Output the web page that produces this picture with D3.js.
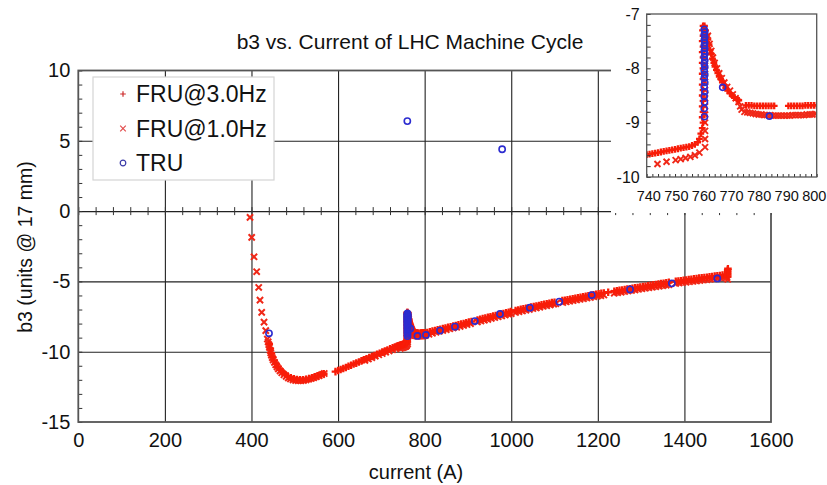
<!DOCTYPE html>
<meta charset="utf-8">
<style>
  body { margin: 0; background: #fff; }
  text { font-family: "Liberation Sans", Arial, sans-serif; fill: #111; }
</style>

<script src="https://d3js.org/d3.v7.min.js"></script>

<div id="chart"></div>

<script>

// values: [current (A), b3 (units @ 17 mm)]
var fru3 = [
  [441,-9.45],[443.5,-9.78],[446,-10.1],[449,-10.38],[452.5,-10.63],[456.5,-10.86],[461,-11.07],[466,-11.27],
  [471.5,-11.45],[477.5,-11.6],[484,-11.74],[491,-11.85],[498,-11.93],[505,-11.98],[512,-12.0],[519,-11.99],
  [526,-11.96],[533,-11.91],[540,-11.85],[547,-11.79],[554,-11.72],[561,-11.64],[567,-11.57],
  [594,-11.42],[600,-11.34],[606,-11.27],[612,-11.19],[618,-11.12],[624,-11.04],[630,-10.96],[636,-10.88],
  [642,-10.81],[648,-10.73],[654,-10.65],[660,-10.57],[666,-10.5],[672,-10.42],[678,-10.34],[684,-10.27],
  [690,-10.19],[696,-10.11],[702,-10.03],[708,-9.96],[714,-9.88],[720,-9.8],[726,-9.73],[731,-9.67],[735,-9.63],
  [737,-9.62],[738,-9.61],[739,-9.6],[740,-9.59],[741,-9.58],[742,-9.57],[743,-9.56],[744,-9.55],[745,-9.54],
  [746,-9.53],[747,-9.52],[748,-9.51],[749,-9.5],[750,-9.49],[751,-9.48],[752,-9.47],[753,-9.46],[754,-9.45],
  [755,-9.44],[756,-9.42],[757,-9.4],[758,-9.36],[758.6,-9.3],[759.1,-9.2],
  [759.6,-9.1],[759.9,-9.0],[759.6,-8.9],[759.9,-8.8],[759.6,-8.7],[759.9,-8.6],[759.6,-8.5],[759.9,-8.4],
  [759.6,-8.3],[759.9,-8.2],[759.6,-8.1],[759.9,-8.0],[759.6,-7.9],[759.9,-7.8],[759.6,-7.7],[759.9,-7.6],
  [759.6,-7.5],[759.9,-7.4],[759.7,-7.3],[759.9,-7.22],
  [760.4,-7.22],[760.8,-7.3],[761.2,-7.38],[761.6,-7.47],[762,-7.56],[762.4,-7.66],[762.8,-7.74],[763.2,-7.82],
  [763.7,-7.9],[764.1,-7.97],[764.6,-8.03],[765.1,-8.09],[765.6,-8.15],[766.1,-8.2],[766.7,-8.26],[767.3,-8.31],
  [767.9,-8.36],[768.6,-8.41],[769.4,-8.46],[770.2,-8.5],[771,-8.54],[771.8,-8.57],[772.5,-8.59],
  [775,-8.68],[776,-8.68],[777,-8.68],[778,-8.69],[779,-8.69],[780,-8.69],[781,-8.69],[782,-8.69],[783,-8.69],
  [784,-8.69],[785,-8.69],
  [790,-8.69],[791,-8.69],[792,-8.69],[793,-8.69],[794,-8.69],[795,-8.69],[796,-8.68],[797,-8.68],[798,-8.68],
  [799,-8.68],[800,-8.68],
  [806,-8.63],[812,-8.59],[818,-8.54],[824,-8.5],[830,-8.45],[836,-8.41],[842,-8.36],[848,-8.32],[854,-8.27],
  [860,-8.23],[866,-8.18],[872,-8.14],[878,-8.09],[884,-8.04],[890,-8.0],[896,-7.95],[902,-7.9],[908,-7.86],
  [922,-7.75],[928,-7.7],[934,-7.65],[940,-7.61],[946,-7.56],[952,-7.51],[958,-7.46],[964,-7.42],[970,-7.37],
  [976,-7.32],[982,-7.28],[988,-7.23],[994,-7.19],[999,-7.15],
  [1010,-7.07],[1016,-7.03],[1022,-6.99],[1028,-6.95],[1034,-6.91],[1040,-6.87],[1046,-6.83],[1052,-6.79],
  [1058,-6.75],[1064,-6.71],[1070,-6.67],[1076,-6.63],[1082,-6.59],[1088,-6.55],[1094,-6.51],[1100,-6.48],
  [1118,-6.37],[1124,-6.34],[1130,-6.3],[1136,-6.27],[1142,-6.23],[1148,-6.2],[1154,-6.16],[1160,-6.13],
  [1166,-6.09],[1172,-6.06],[1178,-6.02],[1184,-5.99],[1190,-5.95],[1196,-5.92],[1202,-5.88],[1208,-5.85],
  [1214,-5.82],[1224,-5.77],
  [1238,-5.7],[1244,-5.67],[1250,-5.64],[1256,-5.61],[1262,-5.58],[1268,-5.55],[1274,-5.52],[1280,-5.49],
  [1286,-5.46],[1292,-5.43],[1298,-5.4],[1304,-5.37],[1310,-5.34],[1316,-5.31],[1322,-5.28],[1328,-5.25],
  [1334,-5.22],[1340,-5.19],[1346,-5.16],[1352,-5.13],[1358,-5.1],[1364,-5.07],
  [1380,-5.0],[1386,-4.97],[1392,-4.95],[1398,-4.92],[1404,-4.9],[1410,-4.87],[1416,-4.85],[1422,-4.82],
  [1428,-4.8],[1434,-4.77],[1440,-4.75],[1446,-4.72],[1452,-4.7],[1458,-4.67],[1464,-4.65],[1470,-4.62],
  [1476,-4.6],[1482,-4.58],[1488,-4.55],[1494,-4.53],[1499,-4.48],
  [1500,-4.65],[1500,-4.5],[1500,-4.35],[1500,-4.2],[1500.5,-4.1]
];

var fru1 = [
  [396.6,-0.45],[400.5,-1.87],[405.9,-3.25],[412,-4.31],[416.7,-5.43],[419.7,-6.33],[423.6,-7.2],[429,-7.9],
  [433,-8.5],[436.7,-9.1],
  [438.5,-9.3],[440,-9.5],[441.5,-9.7],[443,-9.9],[444.5,-10.08],[446,-10.25],[448,-10.42],[450,-10.59],
  [453,-10.76],[456,-10.93],[459,-11.08],[462,-11.22],[466,-11.36],[470,-11.5],[475,-11.64],[480,-11.76],
  [485,-11.86],[490,-11.94],[496,-12.01],[502,-12.05],[508,-12.07],[514,-12.07],[520,-12.05],[526,-12.01],
  [532,-11.96],[538,-11.91],[544,-11.85],[550,-11.78],[556,-11.71],[562,-11.63],[568,-11.55],
  [662,-10.62],[670,-10.52],[678,-10.42],[686,-10.32],[694,-10.22],[702,-10.13],[710,-10.03],[718,-9.94],
  [726,-9.85],[734,-9.78],
  [743.8,-9.76],[747,-9.72],[750.2,-9.69],[752,-9.67],[753.7,-9.65],[755.4,-9.63],[757,-9.6],[758.6,-9.55],
  [760.6,-9.45],[760.6,-9.3],[760.6,-9.15],[760.6,-9.0],[760.6,-8.85],[760.6,-8.7],[760.6,-8.55],[760.6,-8.4],
  [760.6,-8.25],[760.6,-8.1],[760.6,-7.95],[760.6,-7.8],[760.6,-7.65],[761,-7.5],
  [761.6,-7.4],[762.2,-7.55],[762.8,-7.68],[763.4,-7.8],[764,-7.9],[764.8,-8.0],[765.6,-8.09],[766.5,-8.18],
  [767.4,-8.26],[768.4,-8.34],[769.4,-8.41],[770.4,-8.48],[771.4,-8.55],[772.4,-8.62],[773,-8.7],[773.5,-8.76],
  [774.5,-8.8],[775.5,-8.81],[776.5,-8.82],[777.5,-8.83],[778.5,-8.84],[779.5,-8.85],[780.5,-8.85],[781.5,-8.86],
  [782.5,-8.86],[783.5,-8.86],[784.5,-8.87],[785.5,-8.87],[786.5,-8.87],[787.5,-8.87],[788.5,-8.87],[789.5,-8.87],
  [790.5,-8.87],[791.5,-8.86],[792.5,-8.86],[793.5,-8.86],[794.5,-8.86],[795.5,-8.86],[796.5,-8.85],[797.5,-8.85],
  [798.5,-8.85],[799.5,-8.84],
  [802,-8.83],[810,-8.76],[818,-8.69],[826,-8.62],[834,-8.55],[842,-8.49],[850,-8.43],[858,-8.37],[866,-8.31],
  [874,-8.26],[882,-8.2],[890,-8.13],[898,-8.07],[906,-8.01],
  [922,-7.88],[930,-7.82],[938,-7.76],[946,-7.7],[954,-7.63],[962,-7.57],[970,-7.51],[978,-7.45],[986,-7.39],
  [994,-7.33],[1000,-7.29],
  [1010,-7.21],[1018,-7.15],[1026,-7.1],[1034,-7.04],[1042,-6.99],[1050,-6.93],[1058,-6.88],[1066,-6.83],
  [1074,-6.77],[1082,-6.72],[1090,-6.67],[1098,-6.62],[1103,-6.59],
  [1119,-6.5],[1127,-6.45],[1135,-6.41],[1143,-6.36],[1151,-6.32],[1159,-6.27],[1167,-6.23],[1175,-6.18],
  [1183,-6.14],[1191,-6.09],[1199,-6.05],[1207,-6.01],[1214,-5.97],
  [1238,-5.84],[1246,-5.8],[1254,-5.76],[1262,-5.72],[1270,-5.68],[1278,-5.64],[1286,-5.6],[1294,-5.56],
  [1302,-5.52],[1310,-5.48],[1318,-5.45],[1326,-5.41],[1334,-5.37],[1342,-5.34],[1350,-5.3],[1358,-5.27],
  [1364,-5.24],
  [1380,-5.14],[1388,-5.11],[1396,-5.08],[1404,-5.05],[1412,-5.02],[1420,-4.99],[1428,-4.96],[1436,-4.93],
  [1444,-4.9],[1452,-4.87],[1460,-4.84],[1468,-4.81],[1476,-4.78],[1484,-4.75],[1492,-4.72],[1498,-4.7],
  [1500,-4.85]
];

var tru = [
  [760,6.4],[979,4.4],[440.5,-8.69],
  [760.3,-7.28],[760.5,-7.33],[760.3,-7.38],[760.5,-7.43],[760.3,-7.48],[760.5,-7.53],[760.3,-7.58],[760.5,-7.63],
  [760.3,-7.68],[760.5,-7.73],[760.3,-7.79],[760.5,-7.85],[760.3,-7.91],[760.5,-7.97],[760.3,-8.04],[760.5,-8.11],
  [760.3,-8.18],[760.5,-8.26],[760.3,-8.34],[760.5,-8.43],[760.3,-8.52],[760.4,-8.62],[760.3,-8.74],[760.4,-8.89],
  [766.8,-8.35],[783.3,-8.88],[803,-8.81],[835.5,-8.5],[870,-8.22],[916,-7.82],[974,-7.32],[1043,-6.87],
  [1111,-6.44],[1186,-5.97],[1274.5,-5.57],[1371,-5.14],[1476,-4.79]
];

var seriesNames = ["FRU@3.0Hz", "FRU@1.0Hz", "TRU"];
var xTicks = [0, 200, 400, 600, 800, 1000, 1200, 1400, 1600];
var yTicks = [10, 5, 0, -5, -10, -15];
var insetXTicks = [740, 750, 760, 770, 780, 790, 800];
var insetYTicks = [-7, -8, -9, -10];

var red3 = "#f81c08", red1 = "#f02818", blue = "#2c2cd0";
var font = '"Liberation Sans", Arial, sans-serif';

// marker shapes
function plus(s) { return "M" + (-s) + ",0H" + s + "M0," + (-s) + "V" + s; }
function times(s) { return "M" + (-s) + "," + (-s) + "L" + s + "," + s + "M" + (-s) + "," + s + "L" + s + "," + (-s); }

var svg = d3.select("#chart").append("svg")
    .attr("width", 827)
    .attr("height", 485);

// ---------- main plot ----------
var margin = {top: 70.5, left: 78.3},
    width = 692.7,
    height = 351.5;

var g = svg.append("g")
    .attr("transform", "translate(" + margin.left + "," + margin.top + ")");

var x = d3.scaleLinear().domain([0, 1600]).range([0, width]);
var y = d3.scaleLinear().domain([-15, 10]).range([height, 0]);

function styleLines(sel, color, w) {
  sel.select(".domain").remove();
  sel.selectAll("line").attr("stroke", color).attr("stroke-width", w);
}

// grid lines
g.append("g")
    .attr("transform", "translate(0," + height + ")")
    .call(d3.axisBottom(x).tickValues(xTicks.slice(1, -1)).tickSize(-height).tickFormat(""))
    .call(styleLines, "#222", 1.1);
g.append("g")
    .call(d3.axisLeft(y).tickValues(yTicks.slice(1, -1)).tickSize(-width).tickFormat(""))
    .call(styleLines, "#222", 1.1);

// minor ticks: left edge and along b3 = 0
g.append("g")
    .call(d3.axisRight(y).tickValues(d3.range(-15, 11)).tickSize(4).tickFormat(""))
    .call(styleLines, "#333", 1);
g.append("g")
    .attr("transform", "translate(0," + (y(0) - 4) + ")")
    .call(d3.axisBottom(x).tickValues(d3.range(0, 1601, 40)).tickSize(8).tickFormat(""))
    .call(styleLines, "#333", 1);

g.append("rect")
    .attr("width", width).attr("height", height)
    .attr("fill", "none").attr("stroke", "#555").attr("stroke-width", 1.8);

// tick labels
g.append("g")
    .attr("transform", "translate(0," + height + ")")
    .call(d3.axisBottom(x).tickValues(xTicks).tickSize(0).tickPadding(11).tickFormat(function(d) { return String(d); }))
    .call(function(s) { s.select(".domain").remove(); })
    .attr("font-size", 20).attr("font-family", font);
g.append("g")
    .call(d3.axisLeft(y).tickValues(yTicks).tickSize(0).tickPadding(8).tickFormat(function(d) { return String(d); }))
    .call(function(s) { s.select(".domain").remove(); })
    .attr("font-size", 20).attr("font-family", font);

// data
function drawSeries(parent, data, sx, sy, shape, color, size, sw) {
  parent.append("g").selectAll("path")
    .data(data)
    .join("path")
      .attr("transform", function(d) { return "translate(" + sx(d[0]) + "," + sy(d[1]) + ")"; })
      .attr("d", shape(size))
      .attr("fill", "none")
      .attr("stroke", color)
      .attr("stroke-width", sw);
}
function drawCircles(parent, data, sx, sy, r) {
  parent.append("g").selectAll("circle")
    .data(data)
    .join("circle")
      .attr("cx", function(d) { return sx(d[0]); })
      .attr("cy", function(d) { return sy(d[1]); })
      .attr("r", r)
      .attr("fill", "none")
      .attr("stroke", blue)
      .attr("stroke-width", 1.6);
}

drawSeries(g, fru1, x, y, times, red1, 3.1, 2);
drawSeries(g, fru3, x, y, plus, red3, 3.8, 2.3);
drawCircles(g, tru, x, y, 3.1);

// titles
svg.append("text")
    .attr("x", 410).attr("y", 49)
    .attr("text-anchor", "middle")
    .style("font-size", "21px")
    .text("b3 vs. Current of LHC Machine Cycle");

svg.append("text")
    .attr("transform", "translate(32,247) rotate(-90)")
    .attr("text-anchor", "middle")
    .style("font-size", "19.5px")
    .text("b3 (units @ 17 mm)");

svg.append("text")
    .attr("x", 416).attr("y", 479)
    .attr("text-anchor", "middle")
    .style("font-size", "20px")
    .text("current (A)");

// legend
var legend = svg.append("g").attr("transform", "translate(93,77)");
legend.append("rect")
    .attr("width", 181).attr("height", 103)
    .attr("fill", "#fff").attr("stroke", "#d4d4d4").attr("stroke-width", 1.2);
var legendShapes = [plus, times, null];
var legendColors = ["#cc2a2a", "#e24c4c", "#3a3aa8"];
seriesNames.forEach(function(name, i) {
  var row = legend.append("g").attr("transform", "translate(30," + (17 + i * 34.5) + ")");
  if (legendShapes[i]) {
    row.append("path").attr("d", legendShapes[i](2.8))
      .attr("fill", "none").attr("stroke", legendColors[i]).attr("stroke-width", 1.2);
  } else {
    row.append("circle").attr("r", 2.8)
      .attr("fill", "none").attr("stroke", legendColors[i]).attr("stroke-width", 1.2);
  }
  row.append("text")
      .attr("x", 13).attr("y", 8)
      .style("font-size", "23px")
      .text(name);
});

// ---------- inset zoom ----------
svg.append("rect")
    .attr("x", 611).attr("y", 0)
    .attr("width", 216).attr("height", 213)
    .attr("fill", "#fff");

var iw = 170, ih = 163;
var ig = svg.append("g").attr("transform", "translate(646.7,14)");
var xi = d3.scaleLinear().domain([740, 800]).range([0, iw]);
var yi = d3.scaleLinear().domain([-10, -7]).range([ih, 0]);

svg.append("clipPath").attr("id", "insetClip")
  .append("rect").attr("width", iw).attr("height", ih);

var inside = function(d) { return d[0] >= 736 && d[0] <= 802 && d[1] >= -10.2 && d[1] <= -6.8; };
var plot = ig.append("g").attr("clip-path", "url(#insetClip)");
drawSeries(plot, fru1.filter(inside), xi, yi, times, red1, 3, 1.9);
drawSeries(plot, fru3.filter(inside), xi, yi, plus, red3, 3.4, 2.3);
drawCircles(plot, tru.filter(inside), xi, yi, 3);

ig.append("g")
    .call(d3.axisRight(yi).tickValues(d3.range(0, 16).map(function(i) { return -10 + i * 0.2; })).tickSize(4).tickFormat(""))
    .call(styleLines, "#333", 1);
ig.append("g")
    .attr("transform", "translate(0," + ih + ")")
    .call(d3.axisTop(xi).tickValues(d3.range(740, 801, 2)).tickSize(3).tickFormat(""))
    .call(styleLines, "#333", 1);

ig.append("rect")
    .attr("width", iw).attr("height", ih)
    .attr("fill", "none").attr("stroke", "#555").attr("stroke-width", 1.3);

ig.append("g")
    .attr("transform", "translate(0," + ih + ")")
    .call(d3.axisBottom(xi).tickValues(insetXTicks).tickSize(0).tickPadding(14).tickFormat(function(d) { return String(d); }))
    .call(function(s) {
      s.select(".domain").remove();
      // labels sit a little tighter than the ticks so "800" stays on the page
      s.selectAll("text").attr("dx", function(d, i) { return 1.6 - 0.75 * i; });
    })
    .attr("font-size", 14.5).attr("font-family", font);
ig.append("g")
    .call(d3.axisLeft(yi).tickValues(insetYTicks).tickSize(0).tickPadding(7).tickFormat(function(d) { return String(d); }))
    .call(function(s) { s.select(".domain").remove(); })
    .attr("font-size", 16).attr("font-family", font);

</script>
